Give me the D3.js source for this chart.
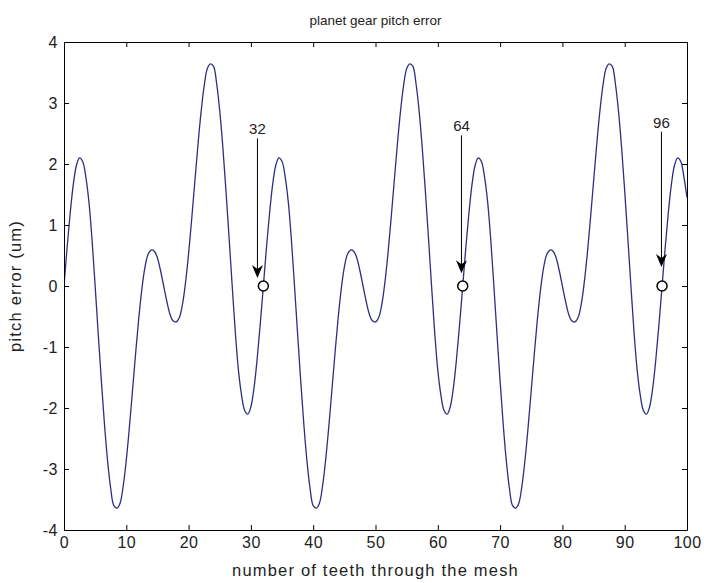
<!DOCTYPE html>
<html>
<head>
<meta charset="utf-8">
<script src="https://cdn.jsdelivr.net/npm/d3@7"></script>
<style>
  body { margin: 0; background: #fff; }
  text { font-family: "Liberation Sans", Arial, sans-serif; fill: #222; }
</style>
</head>
<body>
<div id="chart"></div>
<script>
// pitch error, one value every half tooth (0 .. 100)
var teethStep = 0.5;
var pitchError = [
  0.00, 0.63, 1.20, 1.67, 1.98, 2.10, 2.04, 1.79, 1.38, 0.76, 0.00, -0.79, -1.56, -2.27, -2.87, -3.32,
  -3.60, -3.64, -3.56, -3.28, -2.85, -2.31, -1.71, -1.10, -0.53, -0.05, 0.31, 0.52, 0.59, 0.57, 0.46, 0.25,
  0.00, -0.25, -0.46, -0.57, -0.59, -0.52, -0.31, 0.05, 0.53, 1.10, 1.71, 2.31, 2.85, 3.28, 3.56, 3.64,
  3.60, 3.32, 2.87, 2.27, 1.56, 0.79, 0.00, -0.76, -1.38, -1.79, -2.04, -2.10, -1.98, -1.67, -1.20, -0.63,
  0.00, 0.63, 1.20, 1.67, 1.98, 2.10, 2.04, 1.79, 1.38, 0.76, 0.00, -0.79, -1.56, -2.27, -2.87, -3.32,
  -3.60, -3.64, -3.56, -3.28, -2.85, -2.31, -1.71, -1.10, -0.53, -0.05, 0.31, 0.52, 0.59, 0.57, 0.46, 0.25,
  0.00, -0.25, -0.46, -0.57, -0.59, -0.52, -0.31, 0.05, 0.53, 1.10, 1.71, 2.31, 2.85, 3.28, 3.56, 3.64,
  3.60, 3.32, 2.87, 2.27, 1.56, 0.79, 0.00, -0.76, -1.38, -1.79, -2.04, -2.10, -1.98, -1.67, -1.20, -0.63,
  0.00, 0.63, 1.20, 1.67, 1.98, 2.10, 2.04, 1.79, 1.38, 0.76, 0.00, -0.79, -1.56, -2.27, -2.87, -3.32,
  -3.60, -3.64, -3.56, -3.28, -2.85, -2.31, -1.71, -1.10, -0.53, -0.05, 0.31, 0.52, 0.59, 0.57, 0.46, 0.25,
  0.00, -0.25, -0.46, -0.57, -0.59, -0.52, -0.31, 0.05, 0.53, 1.10, 1.71, 2.31, 2.85, 3.28, 3.56, 3.64,
  3.60, 3.32, 2.87, 2.27, 1.56, 0.79, 0.00, -0.76, -1.38, -1.79, -2.04, -2.10, -1.98, -1.67, -1.20, -0.63,
  0.00, 0.63, 1.20, 1.67, 1.98, 2.10, 2.04, 1.79, 1.45
];

// marked teeth (circles) and their arrows
var markTeeth = [32, 64, 96];
var markError = [0, 0, 0];
var markLabels = ["32", "64", "96"];
var arrowTeeth = [31.05, 63.8, 95.9];
var arrowTip = [0.13, 0.21, 0.31];
var arrowTop = [2.42, 2.47, 2.53];

var xTicks = [0, 10, 20, 30, 40, 50, 60, 70, 80, 90, 100];
var yTicks = [-4, -3, -2, -1, 0, 1, 2, 3, 4];

var width = 704, height = 583;
var margin = {top: 42, right: 17, bottom: 53, left: 64};
var plotW = width - margin.left - margin.right,
    plotH = height - margin.top - margin.bottom;

var svg = d3.select("#chart").append("svg")
    .attr("width", width)
    .attr("height", height);

var g = svg.append("g")
    .attr("transform", "translate(" + margin.left + "," + margin.top + ")");

var x = d3.scaleLinear().domain([0, 100]).range([0, plotW]);
var y = d3.scaleLinear().domain([-4, 4]).range([plotH, 0]);

//clip so the curve stays in the box
g.append("clipPath").attr("id", "plot-clip")
  .append("rect")
    .attr("width", plotW)
    .attr("height", plotH);

var line = d3.line()
    .x(function(d, i) { return x(i * teethStep); })
    .y(function(d) { return y(d); })
    .curve(d3.curveCatmullRom);

g.append("path")
    .datum(pitchError)
    .attr("clip-path", "url(#plot-clip)")
    .attr("d", line)
    .attr("fill", "none")
    .attr("stroke", "#2e2e80")
    .attr("stroke-width", 1.3);

//axes, ticks pointing inwards on all four sides like matlab
//plain hyphen for negatives, matlab does not use the unicode minus
var tick = 5;
var plainFormat = function(d) { return String(d); };
function styleAxis(sel) {
  sel.selectAll("path.domain").attr("stroke", "#000");
  sel.selectAll(".tick line").attr("stroke", "#000");
  sel.selectAll("text")
    .attr("fill", "#222")
    .style("font-size", "16px")
    .style("letter-spacing", "0.5px")
    .style("font-family", "'Liberation Sans', Arial, sans-serif");
}

g.append("g")
    .attr("transform", "translate(0," + plotH + ")")
    .call(d3.axisBottom(x).tickValues(xTicks).tickFormat(plainFormat).tickSizeInner(-tick).tickSizeOuter(0).tickPadding(7))
    .call(styleAxis);
g.append("g")
    .call(d3.axisTop(x).tickValues(xTicks).tickSizeInner(-tick).tickSizeOuter(0).tickFormat(""))
    .call(styleAxis);
g.append("g")
    .call(d3.axisLeft(y).tickValues(yTicks).tickFormat(plainFormat).tickSizeInner(-tick).tickSizeOuter(0).tickPadding(6))
    .call(styleAxis);
g.append("g")
    .attr("transform", "translate(" + plotW + ",0)")
    .call(d3.axisRight(y).tickValues(yTicks).tickSizeInner(-tick).tickSizeOuter(0).tickFormat(""))
    .call(styleAxis);

//arrows with labels
var marks = markTeeth.map(function(t, i) {
  return {t: t, e: markError[i], label: markLabels[i], ax: arrowTeeth[i], tip: arrowTip[i], top: arrowTop[i]};
});

var arrows = g.selectAll(".arrow")
    .data(marks)
  .enter().append("g")
    .attr("class", "arrow");

arrows.append("line")
    .attr("x1", function(d) { return x(d.ax); })
    .attr("x2", function(d) { return x(d.ax); })
    .attr("y1", function(d) { return y(d.top); })
    .attr("y2", function(d) { return y(d.tip) - 6; })
    .attr("stroke", "#000")
    .attr("stroke-width", 1);

//arrow head, tip at (0,0)
arrows.append("path")
    .attr("d", "M0,0 L-5.5,-13 L0,-9 L5.5,-13 Z")
    .attr("transform", function(d) { return "translate(" + x(d.ax) + "," + y(d.tip) + ")"; })
    .attr("fill", "#000");

arrows.append("text")
    .attr("x", function(d) { return x(d.ax); })
    .attr("y", function(d) { return y(d.top) - 4; })
    .attr("text-anchor", "middle")
    .style("font-size", "15px")
    .text(function(d) { return d.label; });

g.selectAll(".mark")
    .data(marks)
  .enter().append("circle")
    .attr("class", "mark")
    .attr("cx", function(d) { return x(d.t); })
    .attr("cy", function(d) { return y(d.e); })
    .attr("r", 5)
    .attr("fill", "#fff")
    .attr("stroke", "#000")
    .attr("stroke-width", 1.5);

//titles
svg.append("text")
    .attr("x", margin.left + plotW / 2)
    .attr("y", 25)
    .attr("text-anchor", "middle")
    .style("font-size", "13.5px")
    .text("planet gear pitch error");

svg.append("text")
    .attr("x", margin.left + plotW / 2)
    .attr("y", 576)
    .attr("text-anchor", "middle")
    .style("font-size", "16.5px")
    .style("letter-spacing", "1.2px")
    .text("number of teeth through the mesh");

svg.append("text")
    .attr("transform", "translate(21," + (margin.top + plotH / 2) + ") rotate(-90)")
    .attr("text-anchor", "middle")
    .style("font-size", "16.5px")
    .style("letter-spacing", "1.2px")
    .text("pitch error (um)");
</script>
</body>
</html>
